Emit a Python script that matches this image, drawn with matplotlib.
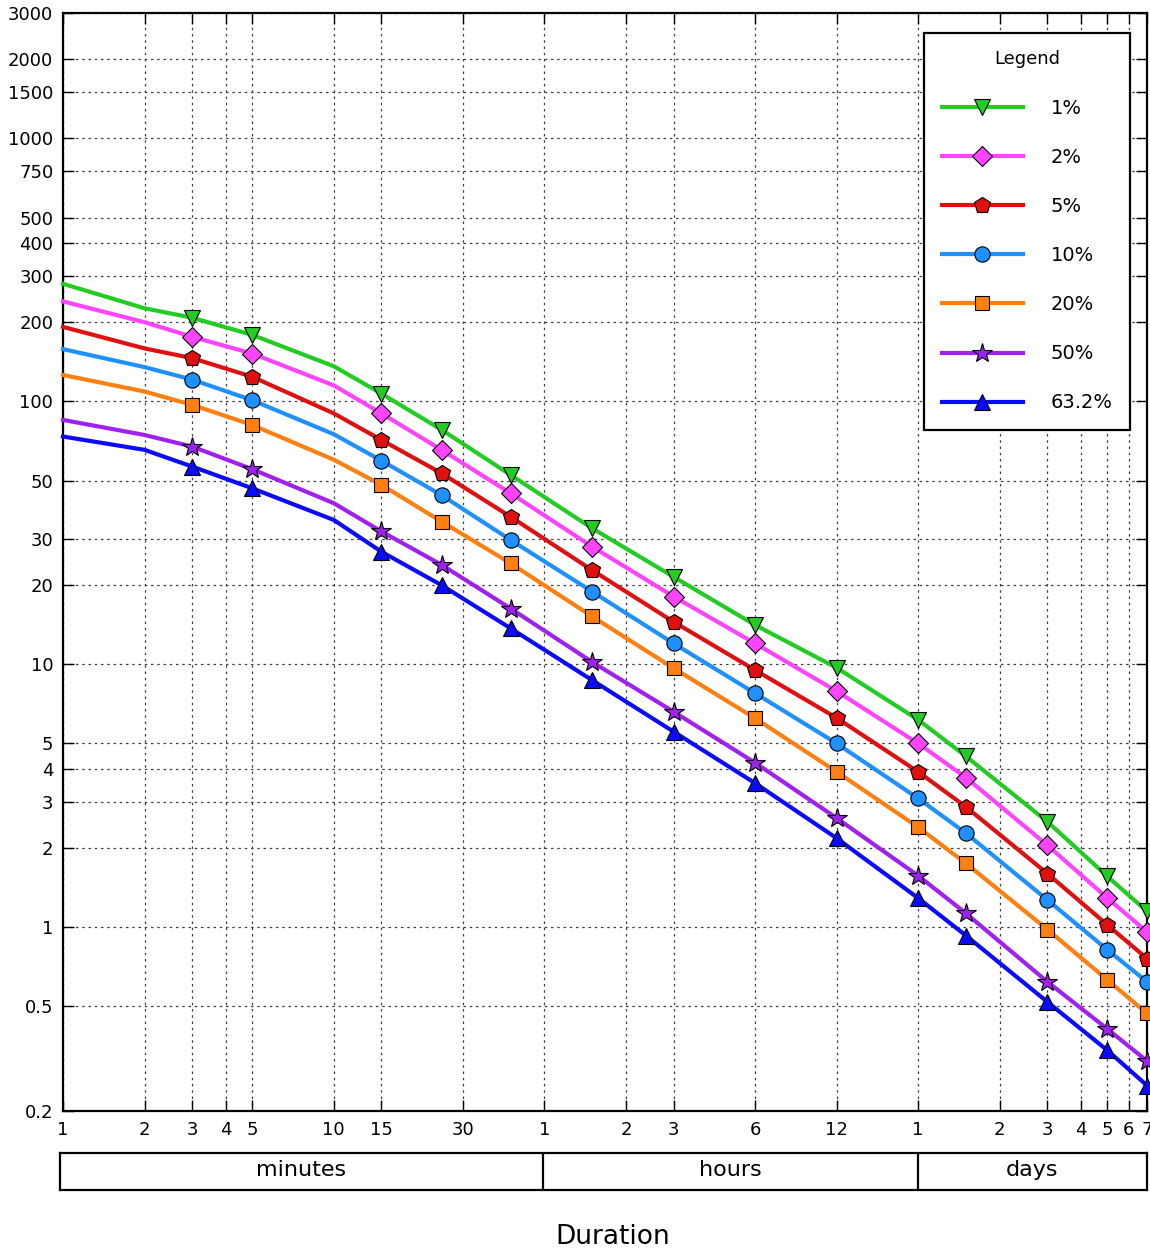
import numpy as np
from matplotlib import pyplot as plt

# durations in minutes (line points); markers only on some of them
durations = [1, 2, 3, 5, 10, 15, 25, 45, 90, 180, 360, 720, 1440, 2160, 4320, 7200, 10080]
marker_idx = [2, 3, 5, 6, 7, 8, 9, 10, 11, 12, 13, 14, 15, 16]

p1 = [280, 226, 208, 179, 136, 107, 78, 52.5, 32.9, 21.5, 14.1, 9.7, 6.15, 4.47, 2.52, 1.56, 1.15]
p2 = [240, 200, 176, 152, 115, 90, 65.4, 44.7, 28.0, 18.1, 12.0, 7.9, 5.0, 3.71, 2.05, 1.29, 0.96]
p5 = [192, 159, 146, 124, 90, 71.3, 53.3, 36.4, 22.8, 14.5, 9.5, 6.25, 3.9, 2.87, 1.60, 1.02, 0.76]
p10 = [158, 135, 121, 101, 75, 59.5, 44, 29.7, 18.9, 12.0, 7.76, 5.0, 3.09, 2.28, 1.27, 0.82, 0.62]
p20 = [126, 109, 97, 81.3, 60, 48.1, 34.9, 24.2, 15.2, 9.66, 6.23, 3.9, 2.4, 1.75, 0.98, 0.63, 0.47]
p50 = [85, 74.5, 67.3, 55.2, 41, 32, 23.9, 16.3, 10.2, 6.6, 4.22, 2.6, 1.57, 1.13, 0.62, 0.41, 0.31]
p632 = [73.5, 65.4, 56.5, 46.7, 35.4, 26.8, 20, 13.7, 8.7, 5.54, 3.53, 2.18, 1.29, 0.93, 0.52, 0.34, 0.25]

series = [p1, p2, p5, p10, p20, p50, p632]
labels = ['1%', '2%', '5%', '10%', '20%', '50%', '63.2%']
colors = ['#22cc22', '#ff44ff', '#e01010', '#1e90ff', '#ff7f10', '#a020f0', '#0a0aff']
markers = ['v', 'D', 'p', 'o', 's', '*', '^']
msizes = [11, 10, 12, 11, 10, 15, 11]

yticks = [0.2, 0.5, 1, 2, 3, 4, 5, 10, 20, 30, 50, 100, 200, 300, 400, 500, 750, 1000, 1500, 2000, 3000]
ytick_labels = ['0.2', '0.5', '1', '2', '3', '4', '5', '10', '20', '30', '50', '100', '200',
                '300', '400', '500', '750', '1000', '1500', '2000', '3000']
xticks = [1, 2, 3, 4, 5, 10, 15, 30, 60, 120, 180, 360, 720,
          1440, 2880, 4320, 5760, 7200, 8640, 10080]
xtick_labels = ['1', '2', '3', '4', '5', '10', '15', '30', '1', '2', '3', '6', '12',
                '1', '2', '3', '4', '5', '6', '7']
units = ['minutes', 'hours', 'days']
unit_edges = [1, 60, 1440, 10080]

fig = plt.figure(figsize=(11.5, 12.49), dpi=100)
ax = fig.add_axes([63 / 1150, 1 - 1111 / 1249, 1084 / 1150, 1098 / 1249])

for vals, lab, c, m, ms in zip(series, labels, colors, markers, msizes):
    ax.plot(durations, vals, color=c, lw=3, marker=m, markersize=ms,
            markerfacecolor=c, markeredgecolor='black', markeredgewidth=0.8,
            markevery=marker_idx, label=lab, clip_on=False, zorder=3)

ax.set_xscale('log')
ax.set_yscale('log')
ax.set_xlim(1, 10080)
ax.set_ylim(0.2, 3000)
ax.set_xticks(xticks)
ax.set_xticklabels(xtick_labels)
ax.set_yticks(yticks)
ax.set_yticklabels(ytick_labels)
ax.minorticks_off()
ax.tick_params(direction='in', length=8, width=1, top=True, right=True,
               labelsize=13, pad=7)
ax.grid(True, color='0.25', linestyle=(0, (2, 3)), linewidth=0.9)
for s in ax.spines.values():
    s.set_linewidth(1.6)

leg = ax.legend(title='Legend', loc='upper right', bbox_to_anchor=(0.9843, 0.9818),
                borderaxespad=0, fontsize=14, title_fontsize=13, handlelength=4.2,
                labelspacing=1.55, borderpad=0.9, handletextpad=1.4, fancybox=False,
                framealpha=1, edgecolor='black')
leg.get_frame().set_linewidth(1.6)

# unit box under the axis
bx = fig.add_axes([60 / 1150, 1 - 1190 / 1249, 1087 / 1150, 37 / 1249])
bx.set_xscale('log')
bx.set_xlim(1, 10080)
bx.set_ylim(0, 1)
bx.set_xticks([])
bx.set_yticks([])
bx.minorticks_off()
for s in bx.spines.values():
    s.set_linewidth(1.6)
for i, u in enumerate(units):
    lo, hi = unit_edges[i], unit_edges[i + 1]
    if i > 0:
        bx.axvline(lo, color='black', lw=1.6)
    bx.text(np.sqrt(lo * hi), 0.55, u, ha='center', va='center', fontsize=16)

fig.text(613 / 1150, 1 - 1237 / 1249, 'Duration', ha='center', va='center', fontsize=19)

fig.savefig('out.png', dpi=100)
